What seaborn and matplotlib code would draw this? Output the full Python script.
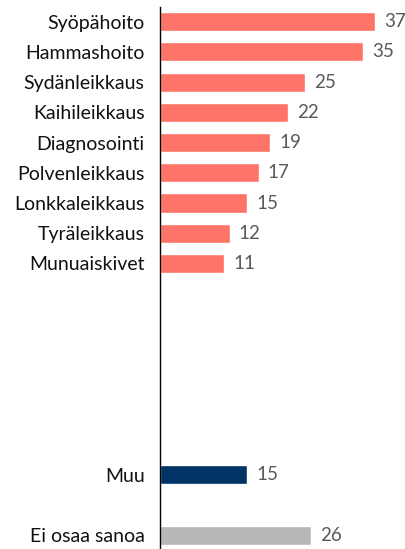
import numpy as np
import pandas as pd
import matplotlib.pyplot as plt
import seaborn as sns

# data
categories = ["Syöpähoito", "Hammashoito", "Sydänleikkaus", "Kaihileikkaus",
              "Diagnosointi", "Polvenleikkaus", "Lonkkaleikkaus", "Tyräleikkaus",
              "Munuaiskivet", "Muu", "Ei osaa sanoa"]
values = [37, 35, 25, 22, 19, 17, 15, 12, 11, 15, 26]
groups = ["main"] * 9 + ["muu", "eos"]

palette = {"main": "#FF7468", "muu": "#003366", "eos": "#B7B7B7"}

df = pd.DataFrame({"category": categories, "value": values, "group": groups})

# empty slots between the main list, Muu and Ei osaa sanoa
blanks = ["_b%d" % i for i in range(7)]
order = categories[:9] + blanks[:6] + ["Muu"] + blanks[6:] + ["Ei osaa sanoa"]

sns.set_style("white")
plt.rcParams["font.family"] = ["Lato", "DejaVu Sans"]

fig = plt.figure(figsize=(4.06, 5.49), dpi=100)
ax = fig.add_axes([0.394, 0.0, 0.60, 0.988])

sns.barplot(data=df, y="category", x="value", hue="group", palette=palette,
            order=order, orient="h", width=0.63, legend=False, ax=ax,
            saturation=1)

ax.set_xlim(0, 42)
ax.set_ylim(len(order) - 0.55, -0.5)

# value labels
pos = {c: i for i, c in enumerate(order)}
for c, v in zip(categories, values):
    ax.text(v + 1.6, pos[c], str(v), va="center", ha="left",
            fontsize=13.5, color="#595959")

ax.set_yticks(range(len(order)))
ax.set_yticklabels([c if not c.startswith("_b") else "" for c in order],
                   fontsize=14, color="#111111")
ax.tick_params(axis="y", length=0, pad=11)
ax.set_xticks([])
ax.set_xlabel("")
ax.set_ylabel("")
for s in ["top", "right", "bottom"]:
    ax.spines[s].set_visible(False)
ax.spines["left"].set_color("black")
ax.spines["left"].set_linewidth(1.0)

fig.savefig("out.png", dpi=100)
